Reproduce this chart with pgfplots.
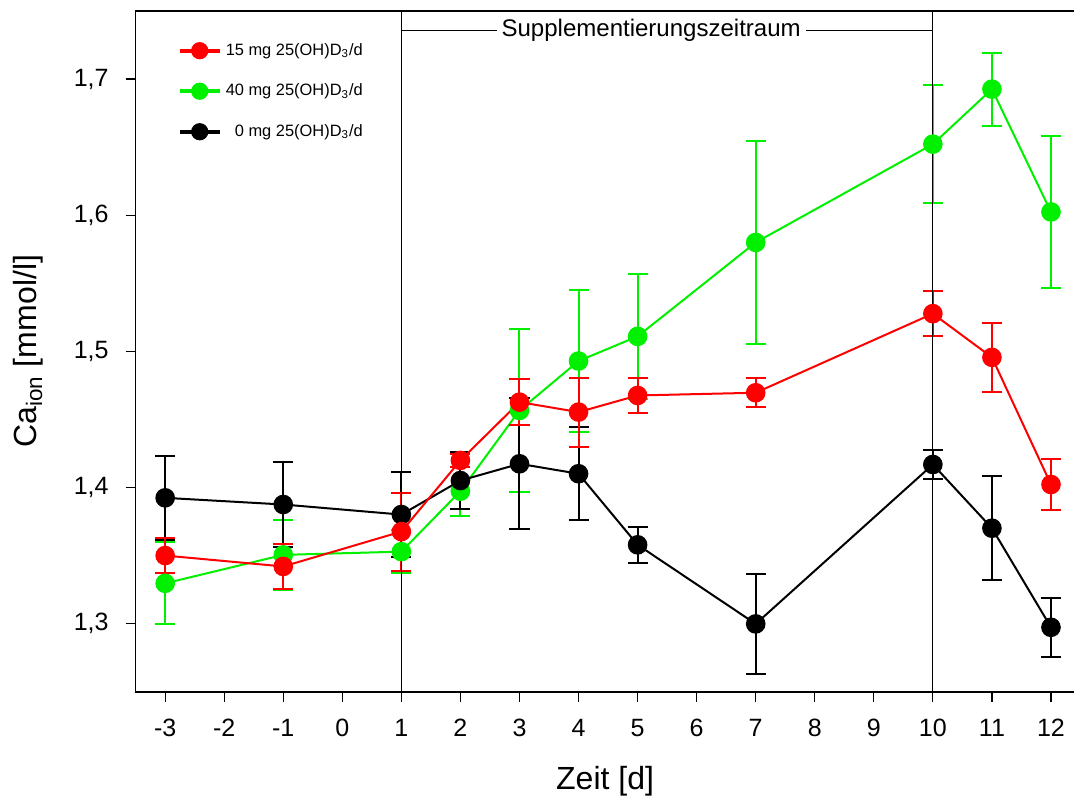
\documentclass[border=0pt]{standalone}
\usepackage{pgfplots}
\pgfplotsset{compat=1.18}
\usepackage{fontspec}
\setmainfont{Liberation Sans}
\definecolor{cgreen}{RGB}{0,240,0}
\begin{document}
\begin{tikzpicture}
\begin{axis}[
    scale only axis,
    width=469pt, height=340pt,
    xmin=-3.5, xmax=12.4,
    ymin=1.25, ymax=1.75,
    xtick={-3,...,12},
    ytick={1.3,1.4,1.5,1.6,1.7},
    tick pos=left,
    tick align=outside,
    major tick length=5pt,
    axis line style={line width=0.8pt},
    tick style={line width=0.6pt, black},
    /pgf/number format/assume math mode=true,
    ticklabel style={font=\fontsize{12.5}{14}\selectfont},
    yticklabel style={xshift=-5pt, /pgf/number format/use comma,
        /pgf/number format/fixed, /pgf/number format/fixed zerofill,
        /pgf/number format/precision=1},
    xticklabel style={yshift=-5pt},
    xlabel={Zeit [d]},
    xlabel style={font=\fontsize{16}{18}\selectfont, at={(axis description cs:0.5,-0.131)}, anchor=center},
    ylabel={Ca\textsubscript{ion} [mmol/l]},
    ylabel style={font=\fontsize{16}{18}\selectfont, at={(axis description cs:-0.114,0.5)}, anchor=center},
    legend style={at={(axis description cs:0.038,0.965)}, anchor=north west,
        draw=none, fill=none, font=\fontsize{8.2}{10}\selectfont,
        row sep=8.8pt, cells={anchor=west}},
    legend image code/.code={\draw[mark repeat=2,mark phase=2,#1]
        plot coordinates {(0pt,0pt)(10pt,0pt)(20pt,0pt)};},
    series/.style={line width=1pt, mark=*, mark size=4.4pt,
        error bars/y dir=both, error bars/y explicit,
        error bars/error bar style={line width=1pt},
        error bars/error mark options={rotate=90, mark size=5pt, line width=1pt}},
]

% legend first (order red, green, black)
\addlegendimage{red, line width=2pt, mark=*, mark size=3.3pt}
\addlegendentry{15 mg 25(OH)D\textsubscript{3}/d}
\addlegendimage{cgreen, line width=2pt, mark=*, mark size=3.3pt}
\addlegendentry{40 mg 25(OH)D\textsubscript{3}/d}
\addlegendimage{black, line width=2pt, mark=*, mark size=3.3pt}
\addlegendentry{\phantom{1}0 mg 25(OH)D\textsubscript{3}/d}

% 40 mg
\addplot[cgreen, series, forget plot] coordinates {
    (-3,1.3296) +- (0,0.030)
    (-1,1.3505) +- (0,0.0255)
    (1,1.3529)  +- (0,0.016)
    (2,1.3973)  +- (0,0.018)
    (3,1.4566)  +- (0,0.060)
    (4,1.4929)  +- (0,0.052)
    (5,1.5110)  +- (0,0.046)
    (7,1.5800)  +- (0,0.0745)
    (10,1.6522) +- (0,0.0434)
    (11,1.6926) +- (0,0.0268)
    (12,1.6024) +- (0,0.056)
};

% 0 mg
\addplot[black, series, forget plot] coordinates {
    (-3,1.3924) +- (0,0.031)
    (-1,1.3875) +- (0,0.031)
    (1,1.3801)  +- (0,0.031)
    (2,1.4051)  +- (0,0.021)
    (3,1.4174)  +- (0,0.048)
    (4,1.4101)  +- (0,0.034)
    (5,1.3579)  +- (0,0.013)
    (7,1.2998)  +- (0,0.037)
    (10,1.4169) +- (0,0.0103)
    (11,1.3701) +- (0,0.038)
    (12,1.2973) +- (0,0.0217)
};

% 15 mg
\addplot[red, series, forget plot] coordinates {
    (-3,1.3500) +- (0,0.013)
    (-1,1.3420) +- (0,0.0163)
    (1,1.3676)  +- (0,0.0287)
    (2,1.4199)  +- (0,0.0048)
    (3,1.4627)  +- (0,0.0168)
    (4,1.4554)  +- (0,0.0253)
    (5,1.4676)  +- (0,0.013)
    (7,1.4696)  +- (0,0.0108)
    (10,1.5277) +- (0,0.0167)
    (11,1.4956) +- (0,0.0254)
    (12,1.4022) +- (0,0.0189)
};

% supplementation period
\addplot[black, line width=0.6pt, mark=none, forget plot] coordinates {(1,1.25) (1,1.75)};
\addplot[black, line width=0.6pt, mark=none, forget plot] coordinates {(10,1.25) (10,1.75)};
\addplot[black, line width=0.6pt, mark=none, forget plot] coordinates {(1,1.7355) (10,1.7355)};
\node[fill=white, inner sep=2.5pt, font=\fontsize{12}{14}\selectfont] at (axis cs:5.23,1.7355) {Supplementierungszeitraum};

\end{axis}
\pgfresetboundingbox
\path ([shift={(-67.75pt,-56pt)}]current axis.south west) rectangle ([shift={(-0.3pt,5.5pt)}]current axis.north east);
\end{tikzpicture}
\end{document}
